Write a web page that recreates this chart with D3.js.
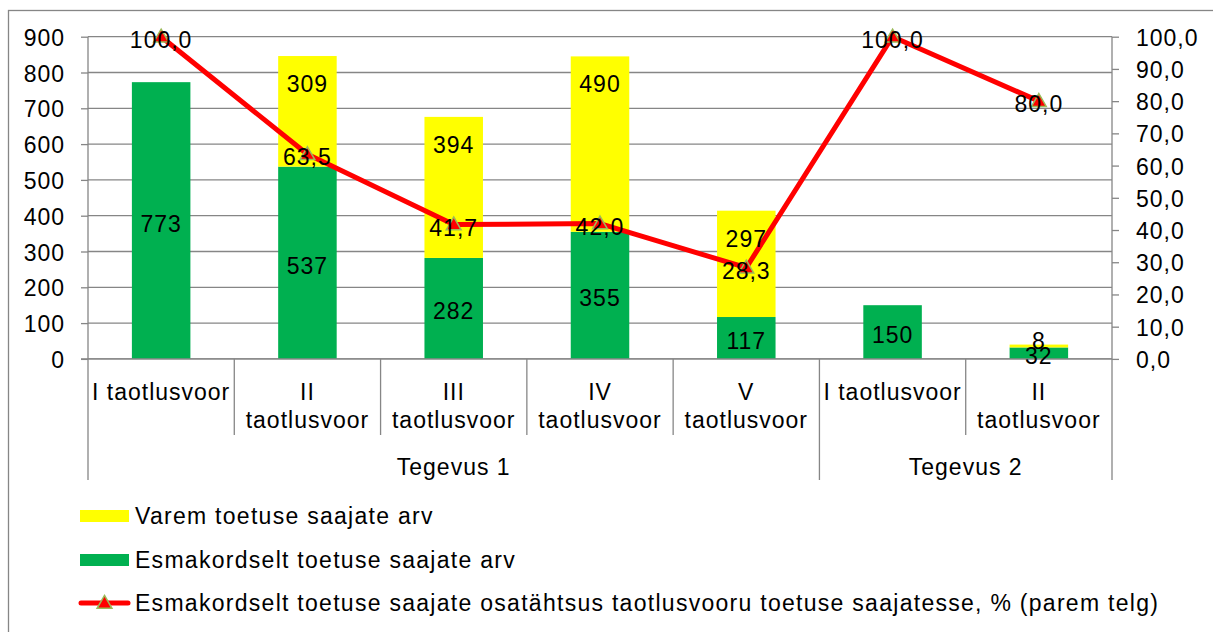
<!DOCTYPE html>
<html>
<head>
<meta charset="utf-8">
<script src="https://cdn.jsdelivr.net/npm/d3@7"></script>
<style>
  body { margin: 0; background: #fff; }
  text { font-family: "Liberation Sans", Arial, sans-serif; font-size: 23px; letter-spacing: 1px; fill: #000; }
  .legend text { letter-spacing: 1.28px; }
</style>
</head>
<body>
<svg id="chart" width="1213" height="632"></svg>
<script>
// category labels (lines), grouped into two activities
var categories = [["I taotlusvoor"], ["II", "taotlusvoor"], ["III", "taotlusvoor"], ["IV", "taotlusvoor"],
                  ["V", "taotlusvoor"], ["I taotlusvoor"], ["II", "taotlusvoor"]];
var groups = ["Tegevus 1", "Tegevus 2"];
var groupSizes = [5, 2];

// series
var firstTime = [773, 537, 282, 355, 117, 150, 32];   // Esmakordselt toetuse saajate arv
var earlier = [0, 309, 394, 490, 297, 0, 8];           // Varem toetuse saajate arv
var share = [100.0, 63.5, 41.7, 42.0, 28.3, 100.0, 80.0]; // osatähtsus, %

var leftTicks = [0, 100, 200, 300, 400, 500, 600, 700, 800, 900];
var rightTicks = [0, 10, 20, 30, 40, 50, 60, 70, 80, 90, 100];

var legendLabels = ["Varem toetuse saajate arv",
                    "Esmakordselt toetuse saajate arv",
                    "Esmakordselt toetuse saajate osatähtsus taotlusvooru toetuse saajatesse, % (parem telg)"];

var svg = d3.select("#chart");
var plotLeft = 88, plotRight = 1112, plotTop = 36.7, plotBottom = 358.9;
var gray = "#868686";

svg.append("rect")
    .attr("x", 8.5).attr("y", 10.5)
    .attr("width", 1215).attr("height", 640)
    .attr("fill", "none").attr("stroke", gray).attr("stroke-width", 1.3);

var idx = d3.range(categories.length);
var x = d3.scaleBand().domain(idx).range([plotLeft, plotRight]).paddingInner(0.6).paddingOuter(0.3);
var step = x.step();
var y = d3.scaleLinear().domain([0, 900]).range([plotBottom, plotTop]);
var y2 = d3.scaleLinear().domain([0, 100]).range([plotBottom, plotTop]);
var fmt = function (d) { return d.toFixed(1).replace(".", ","); };

// gridlines
svg.append("g")
    .selectAll("line")
    .data(leftTicks)
    .enter().append("line")
    .attr("x1", plotLeft).attr("x2", plotRight)
    .attr("y1", function (d) { return y(d); })
    .attr("y2", function (d) { return y(d); })
    .attr("stroke", gray).attr("stroke-width", 1.3);

// left axis
var gl = svg.append("g")
    .attr("transform", "translate(" + plotLeft + ",0)")
    .call(d3.axisLeft(y).tickValues(leftTicks).tickSize(7).tickPadding(16).tickFormat(d3.format("d")));
// right axis
var gr = svg.append("g")
    .attr("transform", "translate(" + plotRight + ",0)")
    .call(d3.axisRight(y2).tickValues(rightTicks).tickSize(7).tickPadding(17).tickFormat(fmt));
[gl, gr].forEach(function (g) {
    g.attr("font-size", null).attr("font-family", null);
    g.selectAll("line, path").attr("stroke", gray).attr("stroke-width", 1.3);
    g.select(".domain").attr("d", "M0," + plotTop + "V" + plotBottom);
    g.selectAll("text").attr("dy", "0.37em");
});

// bars
var bars = svg.append("g");
bars.selectAll("rect.first")
    .data(idx)
    .enter().append("rect")
    .attr("class", "first")
    .attr("x", function (i) { return x(i); })
    .attr("width", x.bandwidth())
    .attr("y", function (i) { return y(firstTime[i]); })
    .attr("height", function (i) { return y(0) - y(firstTime[i]); })
    .attr("fill", "#00B050");
bars.selectAll("rect.earlier")
    .data(idx.filter(function (i) { return earlier[i] > 0; }))
    .enter().append("rect")
    .attr("class", "earlier")
    .attr("x", function (i) { return x(i); })
    .attr("width", x.bandwidth())
    .attr("y", function (i) { return y(firstTime[i] + earlier[i]); })
    .attr("height", function (i) { return y(firstTime[i]) - y(firstTime[i] + earlier[i]); })
    .attr("fill", "#FFFF00");

// category axis
var axis = svg.append("g").attr("stroke", gray).attr("stroke-width", 1.3);
axis.append("line").attr("x1", plotLeft - 7).attr("x2", plotRight).attr("y1", y(0)).attr("y2", y(0));
var boundaries = [0];
groupSizes.forEach(function (n) { boundaries.push(boundaries[boundaries.length - 1] + n); });
d3.range(categories.length + 1).forEach(function (k) {
    var isGroup = boundaries.indexOf(k) >= 0;
    axis.append("line")
        .attr("x1", plotLeft + k * step).attr("x2", plotLeft + k * step)
        .attr("y1", y(0)).attr("y2", isGroup ? 480 : 435);
});
var cat = svg.append("g");
idx.forEach(function (i) {
    var t = cat.append("text")
        .attr("text-anchor", "middle")
        .attr("x", x(i) + x.bandwidth() / 2)
        .attr("y", 400);
    categories[i].forEach(function (line, j) {
        t.append("tspan").attr("x", x(i) + x.bandwidth() / 2).attr("dy", j === 0 ? 0 : 28).text(line);
    });
});
groups.forEach(function (g, k) {
    svg.append("text")
        .attr("text-anchor", "middle")
        .attr("x", plotLeft + (boundaries[k] + boundaries[k + 1]) / 2 * step)
        .attr("y", 475)
        .text(g);
});

// line series
var cx = function (i) { return x(i) + x.bandwidth() / 2; };
svg.append("path")
    .datum(idx)
    .attr("fill", "none")
    .attr("stroke", "#FF0000")
    .attr("stroke-width", 5)
    .attr("stroke-linejoin", "round")
    .attr("d", d3.line().x(cx).y(function (i) { return y2(share[i]); }));
svg.append("g")
    .selectAll("path")
    .data(idx)
    .enter().append("path")
    .attr("d", d3.symbol().type(d3.symbolTriangle).size(95))
    .attr("transform", function (i) { return "translate(" + cx(i) + "," + (y2(share[i]) + 1) + ")"; })
    .attr("fill", "#FF0000").attr("stroke", "#9BBB59").attr("stroke-width", 1.5);

// data labels
var labels = svg.append("g").attr("text-anchor", "middle");
idx.forEach(function (i) {
    labels.append("text")
        .attr("x", cx(i))
        .attr("y", (y(0) + y(firstTime[i])) / 2 + 3)
        .attr("dy", "0.35em")
        .text(firstTime[i]);
    if (earlier[i] > 0) {
        var t0 = y(firstTime[i] + earlier[i]), t1 = y(firstTime[i]);
        labels.append("text")
            .attr("x", cx(i))
            .attr("y", t1 - t0 > 40 ? t0 + 28 : (t0 + t1) / 2 - 5)
            .attr("dy", "0.35em")
            .text(earlier[i]);
    }
    labels.append("text")
        .attr("x", cx(i))
        .attr("y", y2(share[i]) + 3)
        .attr("dy", "0.35em")
        .text(fmt(share[i]));
});

// legend
var legend = svg.append("g").attr("class", "legend");
var ly = [516, 560, 603];
legend.append("rect").attr("x", 80).attr("y", ly[0] - 6).attr("width", 49).attr("height", 12).attr("fill", "#FFFF00");
legend.append("rect").attr("x", 80).attr("y", ly[1] - 6).attr("width", 49).attr("height", 12).attr("fill", "#00B050");
legend.append("line").attr("x1", 81).attr("x2", 128).attr("y1", ly[2]).attr("y2", ly[2])
    .attr("stroke", "#FF0000").attr("stroke-width", 5).attr("stroke-linecap", "round");
legend.append("path")
    .attr("d", d3.symbol().type(d3.symbolTriangle).size(95))
    .attr("transform", "translate(104.5," + (ly[2] + 1) + ")")
    .attr("fill", "#FF0000").attr("stroke", "#9BBB59").attr("stroke-width", 1.5);
legend.selectAll("text")
    .data(legendLabels)
    .enter().append("text")
    .attr("x", 135)
    .attr("y", function (d, i) { return ly[i] + 8; })
    .text(function (d) { return d; });
</script>
</body>
</html>
